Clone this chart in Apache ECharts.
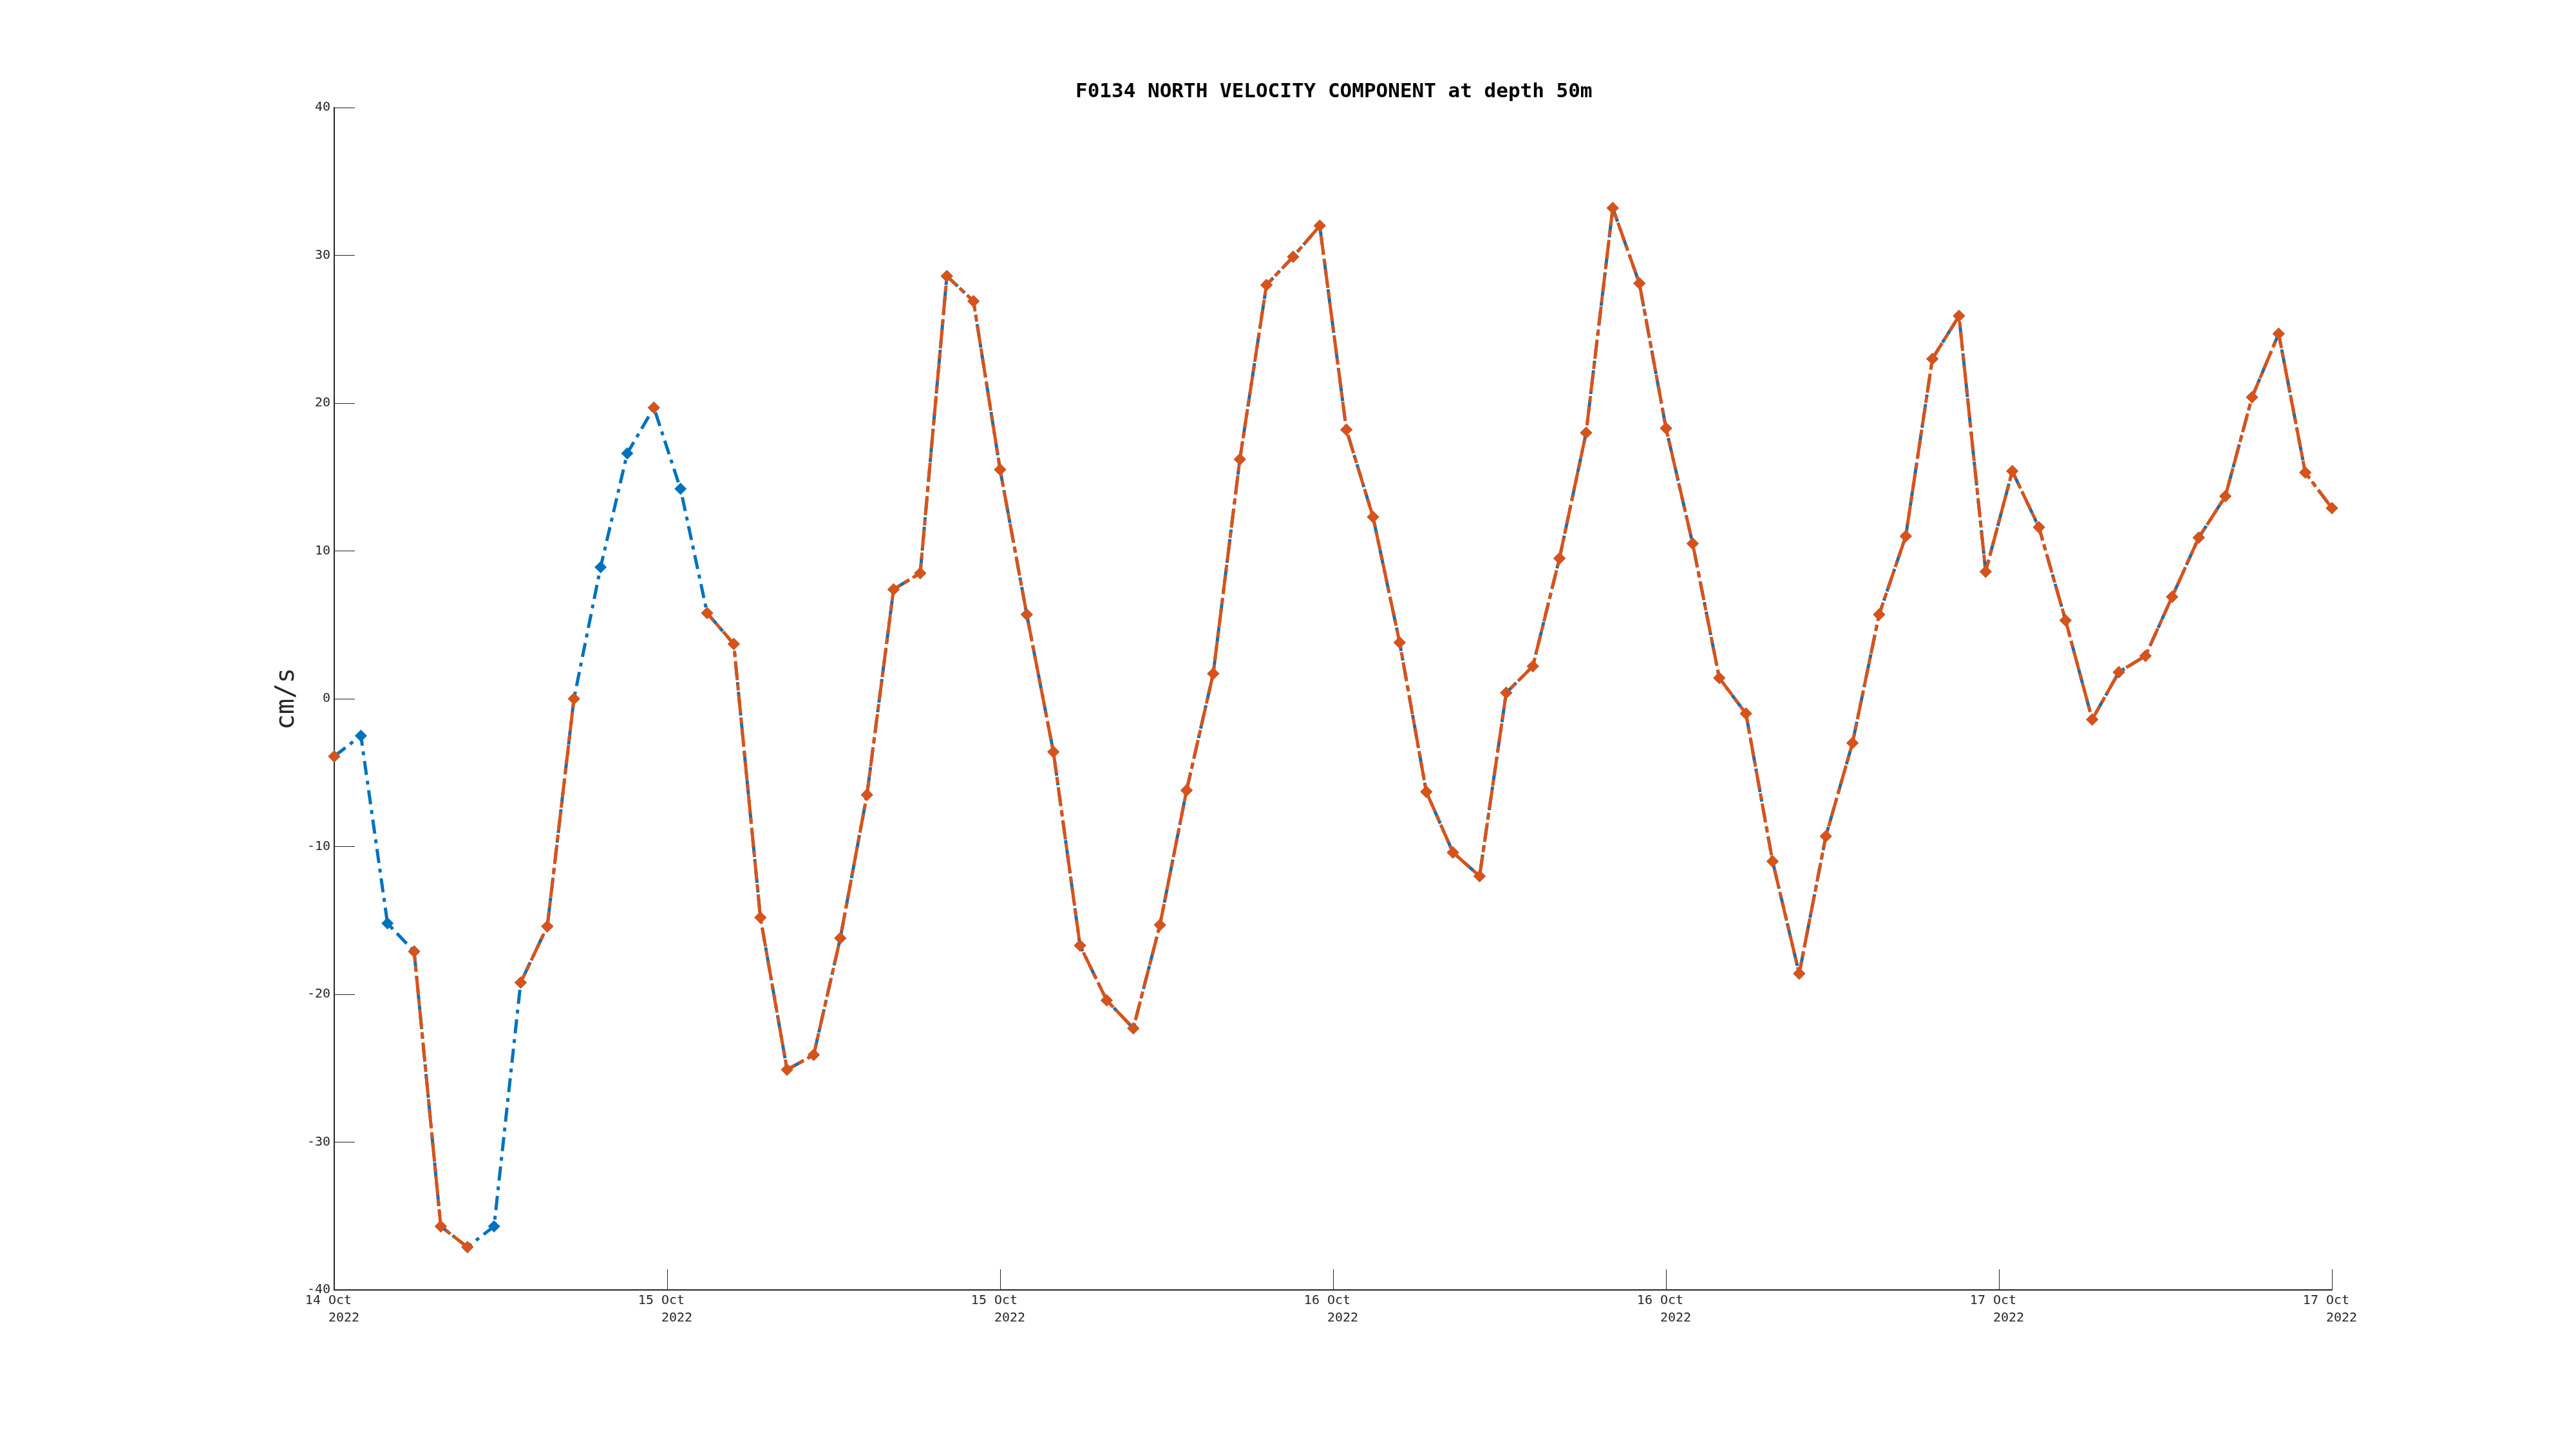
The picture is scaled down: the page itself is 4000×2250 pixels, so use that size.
<!DOCTYPE html>
<html>
<head>
<meta charset="utf-8">
<script src="https://cdn.jsdelivr.net/npm/echarts@6/dist/echarts.min.js"></script>
<style>
html,body{margin:0;padding:0;background:#fff;}
#chart{width:4000px;height:2250px;}
</style>
</head>
<body>
<div id="chart"></div>
<script>
// ---- data ----
const titleText = 'F0134 NORTH VELOCITY COMPONENT at depth 50m';
const yAxisName = 'cm/s';
const startTime = Date.UTC(2022, 9, 14, 12, 0, 0);   // first sample
const sampleMinutes = 57.6;                           // sampling interval
const axisStart = Date.UTC(2022, 9, 14, 12, 0, 0);
const axisEnd = Date.UTC(2022, 9, 17, 12, 0, 0);
const tickHours = 12;
const monthNames = ['Jan','Feb','Mar','Apr','May','Jun','Jul','Aug','Sep','Oct','Nov','Dec'];

// all samples (blue, dash-dot)
const northAll = [-3.9, -2.5, -15.2, -17.1, -35.7, -37.1, -35.7, -19.2, -15.4, 0.0,
  8.9, 16.6, 19.7, 14.2, 5.8, 3.7, -14.8, -25.1, -24.1, -16.2,
  -6.5, 7.4, 8.5, 28.6, 26.9, 15.5, 5.7, -3.6, -16.7, -20.4,
  -22.3, -15.3, -6.2, 1.7, 16.2, 28.0, 29.9, 32.0, 18.2, 12.3,
  3.8, -6.3, -10.4, -12.0, 0.4, 2.2, 9.5, 18.0, 33.2, 28.1,
  18.3, 10.5, 1.4, -1.0, -11.0, -18.6, -9.3, -3.0, 5.7, 11.0,
  23.0, 25.9, 8.6, 15.4, 11.6, 5.3, -1.4, 1.8, 2.9, 6.9,
  10.9, 13.7, 20.4, 24.7, 15.3, 12.9];

// quality-controlled samples (orange)
const northQC = [-3.9, null, null, -17.1, -35.7, -37.1, null, -19.2, -15.4, 0.0,
  null, null, 19.7, null, 5.8, 3.7, -14.8, -25.1, -24.1, -16.2,
  -6.5, 7.4, 8.5, 28.6, 26.9, 15.5, 5.7, -3.6, -16.7, -20.4,
  -22.3, -15.3, -6.2, 1.7, 16.2, 28.0, 29.9, 32.0, 18.2, 12.3,
  3.8, -6.3, -10.4, -12.0, 0.4, 2.2, 9.5, 18.0, 33.2, 28.1,
  18.3, 10.5, 1.4, -1.0, -11.0, -18.6, -9.3, -3.0, 5.7, 11.0,
  23.0, 25.9, 8.6, 15.4, 11.6, 5.3, -1.4, 1.8, 2.9, 6.9,
  10.9, 13.7, 20.4, 24.7, 15.3, 12.9];

const yMin = -40, yMax = 40, yStep = 10;

// ---- build ----
const times = northAll.map((_, i) => startTime + i * sampleMinutes * 60000);
const blueData = northAll.map((v, i) => [times[i], v]);
const orangeData = northQC.map((v, i) => [times[i], v]);

const FONT = '"DejaVu Sans Mono", "Liberation Mono", monospace';
const AX = '#262626';

const chart = echarts.init(document.getElementById('chart'), null, {renderer: 'canvas'});
chart.setOption({
  animation: false,
  backgroundColor: '#ffffff',
  title: {
    text: titleText,
    left: 1665,
    top: 122,
    textStyle: {fontFamily: FONT, fontWeight: 'bold', fontSize: 31, color: '#000'}
  },
  grid: {left: 519, right: 379, top: 167, bottom: 247, containLabel: false},
  xAxis: {
    type: 'value',
    min: axisStart,
    max: axisEnd,
    interval: tickHours * 3600000,
    axisLine: {show: true, onZero: false, lineStyle: {color: AX, width: 2}},
    axisTick: {show: true, inside: true, length: 32, lineStyle: {color: AX, width: 1}},
    splitLine: {show: false},
    axisLabel: {
      show: true, margin: 3, fontFamily: FONT, fontSize: 20, color: AX, lineHeight: 27,
      padding: [0, 6, 0, 0],
      showMinLabel: true, showMaxLabel: true,
      formatter: function (v) {
        const d = new Date(v);
        return d.getUTCDate() + ' ' + monthNames[d.getUTCMonth()] + ' \n   ' + d.getUTCFullYear();
      }
    }
  },
  yAxis: {
    type: 'value',
    min: yMin, max: yMax, interval: yStep,
    name: yAxisName,
    nameLocation: 'middle',
    nameGap: 50,
    nameTextStyle: {fontFamily: FONT, fontSize: 40, color: AX},
    axisLine: {show: true, onZero: false, lineStyle: {color: AX, width: 2}},
    axisTick: {show: true, inside: true, length: 32, lineStyle: {color: AX, width: 1}},
    splitLine: {show: false},
    axisLabel: {margin: 6, fontFamily: FONT, fontSize: 20, color: AX}
  },
  series: [
    {
      name: 'all',
      type: 'line',
      data: blueData,
      symbol: 'diamond',
      symbolSize: 19,
      showAllSymbol: true,
      itemStyle: {color: '#0072BD'},
      lineStyle: {color: '#0072BD', width: 5, type: [22, 9, 6, 9]},
      z: 2
    },
    {
      name: 'qc',
      type: 'line',
      data: orangeData,
      connectNulls: false,
      symbol: 'diamond',
      symbolSize: 19,
      showAllSymbol: true,
      itemStyle: {color: '#D95319'},
      lineStyle: {color: '#D95319', width: 5, type: [30, 6, 10, 6], dashOffset: 14},
      z: 3
    }
  ]
});
</script>
</body>
</html>
